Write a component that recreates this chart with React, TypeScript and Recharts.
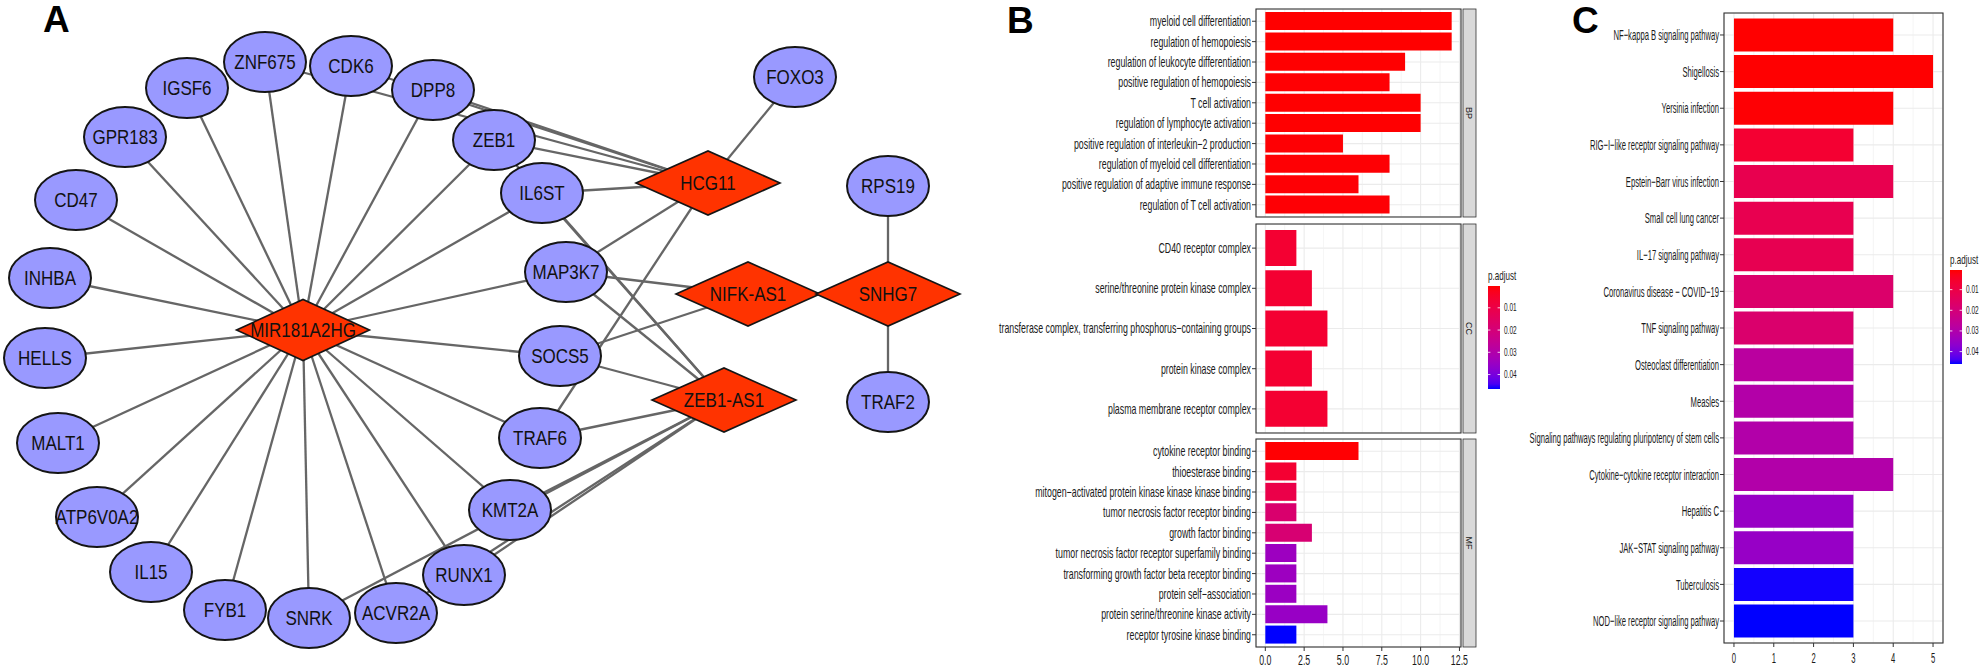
import React from "react";
import { ScatterChart, Scatter, XAxis, YAxis, BarChart, Bar, Cell, CartesianGrid } from "recharts";

const FONT = "'Liberation Sans', Arial, Helvetica, sans-serif";

// ---------- panel A: ceRNA network (layout coordinates from the original drawing)
const geneNames = ["ZNF675", "CDK6", "DPP8", "ZEB1", "IL6ST", "MAP3K7", "SOCS5", "TRAF6", "KMT2A", "RUNX1", "ACVR2A", "SNRK", "FYB1", "IL15", "ATP6V0A2", "MALT1", "HELLS", "INHBA", "CD47", "GPR183", "IGSF6", "FOXO3", "RPS19", "TRAF2"];
const geneX = [265, 351, 433, 494, 542, 566, 560, 540, 510, 464, 396, 309, 225, 151, 97, 58, 45, 50, 76, 125, 187, 795, 888, 888];
const geneY = [62, 66, 90, 140, 193, 272, 356, 438, 510, 575, 613, 618, 610, 572, 517, 443, 358, 278, 200, 137, 88, 77, 186, 402];
const lncNames = ["MIR181A2HG", "HCG11", "NIFK-AS1", "ZEB1-AS1", "SNHG7"];
const lncX = [303, 708, 748, 724, 888];
const lncY = [330, 183, 294, 400, 294];

const mirTargets = ["ZNF675", "CDK6", "IGSF6", "DPP8", "GPR183", "ZEB1", "CD47", "IL6ST", "INHBA", "MAP3K7", "HELLS", "SOCS5", "MALT1", "TRAF6", "ATP6V0A2", "KMT2A", "IL15", "RUNX1", "FYB1", "SNRK", "ACVR2A"];
const hcgTargets = ["FOXO3", "ZNF675", "CDK6", "DPP8", "ZEB1", "IL6ST", "MAP3K7", "TRAF6"];
const nifkTargets = ["MAP3K7", "SOCS5"];
const zebAsTargets = ["ZEB1", "IL6ST", "MAP3K7", "SOCS5", "TRAF6", "KMT2A", "RUNX1", "ACVR2A", "SNRK"];
const snhgTargets = ["RPS19", "TRAF2"];

// ---------- panel B: GO enrichment
const bpTerms = ["myeloid cell differentiation", "regulation of hemopoiesis", "regulation of leukocyte differentiation", "positive regulation of hemopoiesis", "T cell activation", "regulation of lymphocyte activation", "positive regulation of interleukin\u22122 production", "regulation of myeloid cell differentiation", "positive regulation of adaptive immune response", "regulation of T cell activation"];
const bpCounts = [12, 12, 9, 8, 10, 10, 5, 8, 6, 8];
const bpPadj = [0.0002, 0.0002, 0.0003, 0.0004, 0.0003, 0.0003, 0.0005, 0.0005, 0.0006, 0.0006];

const ccTerms = ["CD40 receptor complex", "serine/threonine protein kinase complex", "transferase complex, transferring phosphorus\u2212containing groups", "protein kinase complex", "plasma membrane receptor complex"];
const ccCounts = [2, 3, 4, 3, 4];
const ccPadj = [0.0062, 0.0062, 0.0062, 0.0062, 0.0062];

const mfTerms = ["cytokine receptor binding", "thioesterase binding", "mitogen\u2212activated protein kinase kinase kinase binding", "tumor necrosis factor receptor binding", "growth factor binding", "tumor necrosis factor receptor superfamily binding", "transforming growth factor beta receptor binding", "protein self\u2212association", "protein serine/threonine kinase activity", "receptor tyrosine kinase binding"];
const mfCounts = [6, 2, 2, 2, 3, 2, 2, 2, 4, 2];
const mfPadj = [0.0004, 0.0062, 0.0104, 0.0178, 0.0187, 0.0345, 0.0345, 0.0348, 0.0354, 0.0465];

const goTicks = [0, 2.5, 5, 7.5, 10, 12.5];
const goMinor = [1.25, 3.75, 6.25, 8.75, 11.25];

// ---------- panel C: KEGG enrichment
const keggTerms = ["NF\u2212kappa B signaling pathway", "Shigellosis", "Yersinia infection", "RIG\u2212I\u2212like receptor signaling pathway", "Epstein\u2212Barr virus infection", "Small cell lung cancer", "IL\u221217 signaling pathway", "Coronavirus disease \u2212 COVID\u221219", "TNF signaling pathway", "Osteoclast differentiation", "Measles", "Signaling pathways regulating pluripotency of stem cells", "Cytokine\u2212cytokine receptor interaction", "Hepatitis C", "JAK\u2212STAT signaling pathway", "Tuberculosis", "NOD\u2212like receptor signaling pathway"];
const keggCounts = [4, 5, 4, 3, 4, 3, 3, 4, 3, 3, 3, 3, 4, 3, 3, 3, 3];
const keggPadj = [0.0005, 0.0006, 0.0008, 0.0064, 0.0117, 0.0119, 0.0121, 0.0172, 0.0175, 0.0278, 0.0294, 0.0296, 0.0297, 0.035, 0.0352, 0.0458, 0.046];

const keggTicks = [0, 1, 2, 3, 4, 5];
const keggMinor = [0.5, 1.5, 2.5, 3.5, 4.5];
const legendTicks = [0.01, 0.02, 0.03, 0.04];

// ---------- colour scale: red -> blue interpolated in CIELAB (as ggplot does)
const toLin = (c: number) => { c /= 255; return c <= 0.04045 ? c / 12.92 : Math.pow((c + 0.055) / 1.055, 2.4); };
const fromLin = (c: number) => {
  const v = c <= 0.0031308 ? 12.92 * c : 1.055 * Math.pow(c, 1 / 2.4) - 0.055;
  return Math.round(Math.max(0, Math.min(1, v)) * 255);
};
function rgbToLab(r: number, g: number, b: number) {
  const R = toLin(r), G = toLin(g), B = toLin(b);
  const X = (0.4124 * R + 0.3576 * G + 0.1805 * B) / 0.95047;
  const Y = 0.2126 * R + 0.7152 * G + 0.0722 * B;
  const Z = (0.0193 * R + 0.1192 * G + 0.9505 * B) / 1.08883;
  const f = (t: number) => (t > 0.008856 ? Math.cbrt(t) : 7.787 * t + 16 / 116);
  return [116 * f(Y) - 16, 500 * (f(X) - f(Y)), 200 * (f(Y) - f(Z))];
}
function labToHex(L: number, a: number, b: number) {
  const fy = (L + 16) / 116, fx = fy + a / 500, fz = fy - b / 200;
  const inv = (t: number) => (t * t * t > 0.008856 ? t * t * t : (t - 16 / 116) / 7.787);
  const X = inv(fx) * 0.95047, Y = inv(fy), Z = inv(fz) * 1.08883;
  const r = fromLin(3.2406 * X - 1.5372 * Y - 0.4986 * Z);
  const g = fromLin(-0.9689 * X + 1.8758 * Y + 0.0415 * Z);
  const bl = fromLin(0.0557 * X - 0.204 * Y + 1.057 * Z);
  return "#" + [r, g, bl].map((v) => v.toString(16).padStart(2, "0")).join("");
}
const LAB_LO = rgbToLab(255, 0, 0);
const LAB_HI = rgbToLab(0, 0, 255);
function rampColor(t: number) {
  const k = Math.max(0, Math.min(1, t));
  return labToHex(
    LAB_LO[0] + (LAB_HI[0] - LAB_LO[0]) * k,
    LAB_LO[1] + (LAB_HI[1] - LAB_LO[1]) * k,
    LAB_LO[2] + (LAB_HI[2] - LAB_LO[2]) * k
  );
}

const goLo = Math.min(...bpPadj, ...ccPadj, ...mfPadj);
const goHi = Math.max(...bpPadj, ...ccPadj, ...mfPadj);
const keggLo = Math.min(...keggPadj);
const keggHi = Math.max(...keggPadj);

const toRows = (terms: string[], counts: number[], padj: number[]) =>
  terms.map((term, i) => ({ term, count: counts[i], padj: padj[i] }));

// ---------- network pieces
const nodes = [
  ...geneNames.map((name, i) => ({ name, x: geneX[i], y: geneY[i], kind: "gene" })),
  ...lncNames.map((name, i) => ({ name, x: lncX[i], y: lncY[i], kind: "lnc" })),
];
const nodeByName: Record<string, any> = {};
nodes.forEach((n) => (nodeByName[n.name] = n));
const edges: [string, string][] = [
  ...mirTargets.map((t) => ["MIR181A2HG", t] as [string, string]),
  ...hcgTargets.map((t) => ["HCG11", t] as [string, string]),
  ...nifkTargets.map((t) => ["NIFK-AS1", t] as [string, string]),
  ...zebAsTargets.map((t) => ["ZEB1-AS1", t] as [string, string]),
  ...snhgTargets.map((t) => ["SNHG7", t] as [string, string]),
];

function NodeShape(props: any) {
  const { cx, cy } = props;
  const d = props.payload ?? props;
  let body;
  if (d.kind === "gene") {
    body = <ellipse cx={cx} cy={cy} rx={41} ry={30} fill="#9999FF" stroke="#151515" strokeWidth={2} />;
  } else {
    const w = d.name === "MIR181A2HG" ? 66.5 : 72;
    const h = d.name === "MIR181A2HG" ? 30.5 : 32;
    body = (
      <polygon
        points={`${cx - w},${cy} ${cx},${cy - h} ${cx + w},${cy} ${cx},${cy + h}`}
        fill="#FF3300"
        stroke="#151515"
        strokeWidth={1.6}
      />
    );
  }
  return (
    <g>
      {body}
      <g transform={`translate(${cx},${cy}) scale(0.85,1)`}>
        <text textAnchor="middle" dy="0.36em" fontSize={20} fontFamily={FONT} fill="#111">
          {d.name}
        </text>
      </g>
    </g>
  );
}

function Network() {
  return (
    <ScatterChart width={985} height={668} margin={{ top: 0, right: 0, bottom: 0, left: 0 }}>
      <XAxis type="number" dataKey="x" domain={[0, 985]} allowDataOverflow hide />
      <YAxis type="number" dataKey="y" domain={[0, 668]} allowDataOverflow reversed hide />
      {edges.map(([s, t], i) => (
        <Scatter
          key={"e" + i}
          data={[nodeByName[s], nodeByName[t]]}
          line={{ stroke: "#666666", strokeWidth: 2.3 }}
          shape={() => <g />}
          isAnimationActive={false}
        />
      ))}
      <Scatter data={nodes} shape={NodeShape} isAnimationActive={false} />
    </ScatterChart>
  );
}

// ---------- bar panels
const YTick = ({ x, y, payload, fs, sx }: any) => (
  <g transform={`translate(${x},${y}) scale(${sx},1)`}>
    <text textAnchor="end" dy="0.35em" fontSize={fs} fontFamily={FONT} fill="#1A1A1A">
      {payload.value}
    </text>
  </g>
);
const XTick = ({ x, y, payload, fs, sx, digits }: any) => (
  <g transform={`translate(${x},${y}) scale(${sx},1)`}>
    <text textAnchor="middle" dy="0.72em" fontSize={fs} fontFamily={FONT} fill="#1A1A1A">
      {Number(payload.value).toFixed(digits)}
    </text>
  </g>
);

const RIGHT_ROOM = 14;

function EnrichPanel(props: any) {
  const { rows, left, top, yAxisW, plotW, plotH, axisH, domain, ticks, minor, fs, sx, digits, tickGap, lo, hi } = props;
  const n = rows.length;
  const pad = (plotH / (n + 0.2)) * 0.1;
  return (
    <div style={{ position: "absolute", left, top }}>
      <BarChart
        layout="vertical"
        width={yAxisW + plotW + RIGHT_ROOM}
        height={plotH + axisH}
        data={rows}
        margin={{ top: 0, right: RIGHT_ROOM, bottom: 0, left: 0 }}
        barCategoryGap="5%"
      >
        <CartesianGrid stroke="#EBEBEB" strokeWidth={1.1} />
        <CartesianGrid xAxisId="minor" horizontal={false} stroke="#EFEFEF" strokeWidth={0.6} />
        <XAxis
          type="number"
          dataKey="count"
          domain={domain}
          allowDataOverflow
          ticks={ticks}
          interval={0}
          hide={axisH === 0}
          height={axisH}
          axisLine={false}
          tickSize={4}
          tickMargin={tickGap}
          tickLine={{ stroke: "#333" }}
          tick={(p: any) => <XTick {...p} fs={fs} sx={sx} digits={digits} />}
        />
        <XAxis xAxisId="minor" type="number" domain={domain} allowDataOverflow ticks={minor} interval={0} hide />
        <YAxis
          type="category"
          dataKey="term"
          width={yAxisW}
          interval={0}
          axisLine={false}
          tickSize={4}
          tickMargin={1}
          tickLine={{ stroke: "#333" }}
          padding={{ top: pad, bottom: pad }}
          tick={(p: any) => <YTick {...p} fs={fs} sx={sx} />}
        />
        <Bar dataKey="count" isAnimationActive={false}>
          {rows.map((r: any, i: number) => (
            <Cell key={i} fill={rampColor((r.padj - lo) / (hi - lo))} />
          ))}
        </Bar>
      </BarChart>
    </div>
  );
}

function PadjLegend({ x, titleY, barTop, barH, lo, hi }: any) {
  return (
    <g>
      <g transform={`translate(${x},${titleY}) scale(0.67,1)`}>
        <text fontSize={12} fontFamily={FONT} fill="#1A1A1A">p.adjust</text>
      </g>
      <rect x={x} y={barTop} width={12} height={barH} fill="url(#padjRamp)" />
      {legendTicks.map((v) => {
        const yy = barTop + ((v - lo) / (hi - lo)) * barH;
        return (
          <g key={v}>
            <line x1={x} x2={x + 2.4} y1={yy} y2={yy} stroke="#fff" strokeWidth={0.8} />
            <line x1={x + 9.6} x2={x + 12} y1={yy} y2={yy} stroke="#fff" strokeWidth={0.8} />
            <g transform={`translate(${x + 16},${yy}) scale(0.65,1)`}>
              <text dy="0.35em" fontSize={10} fontFamily={FONT} fill="#1A1A1A">{v.toFixed(2)}</text>
            </g>
          </g>
        );
      })}
    </g>
  );
}

const goFacets = [
  { label: "BP", rows: toRows(bpTerms, bpCounts, bpPadj), top: 9, h: 208, axisH: 0 },
  { label: "CC", rows: toRows(ccTerms, ccCounts, ccPadj), top: 224, h: 209, axisH: 0 },
  { label: "MF", rows: toRows(mfTerms, mfCounts, mfPadj), top: 439, h: 208, axisH: 21 },
];
const keggRows = toRows(keggTerms, keggCounts, keggPadj);

const GO_LEFT = 1256, GO_W = 205, GO_YW = 266;
const KG_LEFT = 1724, KG_W = 219, KG_YW = 210, KG_TOP = 13, KG_H = 630;

export default function App() {
  const stops = Array.from({ length: 21 }, (_, i) => i / 20);
  return (
    <div style={{ position: "absolute", left: 0, top: 0, width: 1982, height: 668, overflow: "hidden", background: "#fff" }}>
      <div style={{ position: "absolute", left: 0, top: 0 }}>
        <Network />
      </div>
      {goFacets.map((f) => (
        <EnrichPanel
          key={f.label}
          rows={f.rows}
          left={GO_LEFT - GO_YW}
          top={f.top}
          yAxisW={GO_YW}
          plotW={GO_W}
          plotH={f.h}
          axisH={f.axisH}
          domain={[-0.6, 12.6]}
          ticks={goTicks}
          minor={goMinor}
          fs={14}
          sx={0.63}
          digits={1}
          tickGap={4}
          lo={goLo}
          hi={goHi}
        />
      ))}
      <EnrichPanel
        rows={keggRows}
        left={KG_LEFT - KG_YW}
        top={KG_TOP}
        yAxisW={KG_YW}
        plotW={KG_W}
        plotH={KG_H}
        axisH={25}
        domain={[-0.25, 5.25]}
        ticks={keggTicks}
        minor={keggMinor}
        fs={15}
        sx={0.51}
        digits={0}
        tickGap={5}
        lo={keggLo}
        hi={keggHi}
      />
      <svg width={1982} height={668} style={{ position: "absolute", left: 0, top: 0, pointerEvents: "none" }}>
        <defs>
          <linearGradient id="padjRamp" x1="0" y1="0" x2="0" y2="1">
            {stops.map((t) => (
              <stop key={t} offset={t} stopColor={rampColor(t)} />
            ))}
          </linearGradient>
        </defs>
        <text x={43} y={32} fontSize={37} fontWeight="bold" fontFamily={FONT}>A</text>
        <text x={1007} y={33} fontSize={37} fontWeight="bold" fontFamily={FONT}>B</text>
        <text x={1572} y={33} fontSize={37} fontWeight="bold" fontFamily={FONT}>C</text>
        {goFacets.map((f) => (
          <g key={f.label}>
            <rect x={GO_LEFT} y={f.top} width={GO_W} height={f.h} fill="none" stroke="#333" strokeWidth={1.1} />
            <rect x={GO_LEFT + GO_W + 2} y={f.top} width={13} height={f.h} fill="#D9D9D9" stroke="#333" strokeWidth={0.8} />
            <g transform={`translate(${GO_LEFT + GO_W + 8.5},${f.top + f.h / 2}) rotate(90)`}>
              <text textAnchor="middle" dy="0.35em" fontSize={9} fontFamily={FONT} fill="#1A1A1A">{f.label}</text>
            </g>
          </g>
        ))}
        <rect x={KG_LEFT} y={KG_TOP} width={KG_W} height={KG_H} fill="none" stroke="#333" strokeWidth={1.1} />
        <PadjLegend x={1488} titleY={280} barTop={286} barH={103} lo={goLo} hi={goHi} />
        <PadjLegend x={1950} titleY={264} barTop={270} barH={94} lo={keggLo} hi={keggHi} />
      </svg>
    </div>
  );
}
